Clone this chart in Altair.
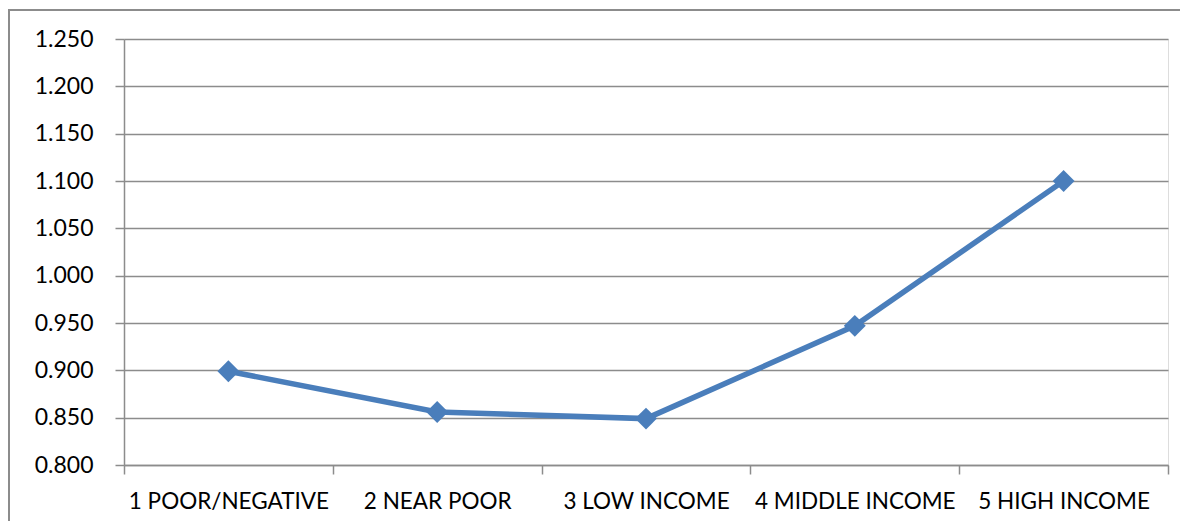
import altair as alt
import pandas as pd

categories = ["1 POOR/NEGATIVE", "2 NEAR POOR", "3 LOW INCOME", "4 MIDDLE INCOME", "5 HIGH INCOME"]
values = [0.899, 0.856, 0.849, 0.947, 1.100]
y_ticks = [0.80, 0.85, 0.90, 0.95, 1.00, 1.05, 1.10, 1.15, 1.20, 1.25]

df = pd.DataFrame({"cat": categories, "val": values})

FONT = "Lato"
GRAY = "#8c8c8c"
BLUE = "#4a7ebb"

x_enc = alt.X(
    "cat:N",
    sort=categories,
    title=None,
    scale=alt.Scale(paddingInner=0, paddingOuter=0),
    axis=alt.Axis(
        labelAngle=0,
        labelFont=FONT,
        labelFontSize=22.5,
        labelColor="#000000",
        labelPadding=16,
        labelLimit=0,
        tickBand="extent",
        tickSize=9,
        tickColor=GRAY,
        tickWidth=1.5,
        domainColor=GRAY,
        domainWidth=1.5,
        grid=False,
    ),
)
y_enc = alt.Y(
    "val:Q",
    title=None,
    scale=alt.Scale(domain=[0.8, 1.25], nice=False, zero=False),
    axis=alt.Axis(
        values=y_ticks,
        format=".3f",
        labelFont=FONT,
        labelFontSize=23,
        labelColor="#000000",
        labelPadding=22,
        tickSize=9,
        tickColor=GRAY,
        tickWidth=1.5,
        domainColor=GRAY,
        domainWidth=1.5,
        grid=True,
        gridColor=GRAY,
        gridWidth=1.5,
    ),
)

line = alt.Chart(df).mark_line(color=BLUE, strokeWidth=5.5).encode(x=x_enc, y=y_enc)
pts = alt.Chart(df).mark_point(shape="diamond", filled=True, color=BLUE, size=480, opacity=1).encode(x=x_enc, y=y_enc)

border = alt.Chart(df).mark_rect(fill=None, stroke=GRAY, strokeWidth=2, clip=False).encode(
    x=alt.value(-115), x2=alt.value(1100), y=alt.value(-29), y2=alt.value(560)
)

chart = alt.layer(border, line, pts).properties(
    width=1044,
    height=426,
    autosize=alt.AutoSizeParams(type="none"),
    padding={"left": 116, "top": 31, "right": 12, "bottom": 56},
).configure_view(stroke=None).configure(background="#ffffff")

chart.save("out.html", embed_options={"renderer": "svg", "actions": False})
